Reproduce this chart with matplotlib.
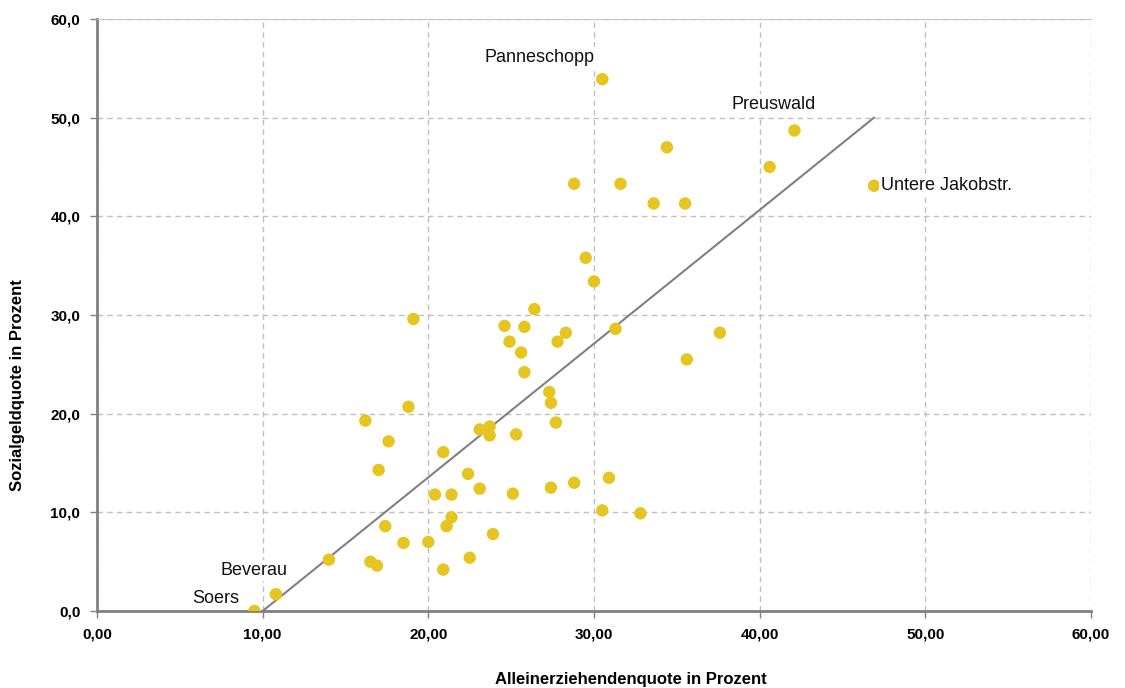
import matplotlib
matplotlib.use("Agg")
import matplotlib.pyplot as plt
from matplotlib.ticker import FuncFormatter

plt.rcParams["font.family"] = ["Liberation Sans Narrow", "Liberation Sans", "DejaVu Sans"]

# Alleinerziehendenquote (x) und Sozialgeldquote (y) je Quartier
alleinerziehend = [
    30.0, 19.1, 26.4, 24.6, 25.8, 24.9, 25.6, 25.8, 28.3, 27.8,
    31.3, 27.3, 27.4, 27.7, 16.2, 18.8, 17.6, 17.0, 23.1, 23.7,
    23.7, 25.3, 20.9, 22.4, 20.4, 21.4, 23.1, 25.1, 27.4, 28.8,
    30.9, 30.5, 21.4, 21.1, 17.4, 18.5, 20.0, 23.9, 14.0, 16.5,
    16.9, 22.5, 20.9, 10.8, 9.5, 30.5, 42.1, 34.4, 40.6, 46.9,
    28.8, 31.6, 33.6, 35.5, 29.5, 37.6, 35.6, 32.8,
]
sozialgeld = [
    33.4, 29.6, 30.6, 28.9, 28.8, 27.3, 26.2, 24.2, 28.2, 27.3,
    28.6, 22.2, 21.1, 19.1, 19.3, 20.7, 17.2, 14.3, 18.4, 18.7,
    17.8, 17.9, 16.1, 13.9, 11.8, 11.8, 12.4, 11.9, 12.5, 13.0,
    13.5, 10.2, 9.5, 8.6, 8.6, 6.9, 7.0, 7.8, 5.2, 5.0,
    4.6, 5.4, 4.2, 1.7, 0.0, 53.9, 48.7, 47.0, 45.0, 43.1,
    43.3, 43.3, 41.3, 41.3, 35.8, 28.2, 25.5, 9.9,
]

# Trendlinie (Anfang und Ende)
trend_x = [10.0, 46.9]
trend_y = [0.0, 50.0]

# beschriftete Quartiere: (Name, x, y, Versatz in Pixel, Ausrichtung)
labels = [
    ("Panneschopp", 30.5, 53.9, (-8, 22), "right"),
    ("Preuswald", 42.1, 48.7, (21, 26), "right"),
    ("Untere Jakobstr.", 46.9, 43.1, (7, 0), "left"),
    ("Beverau", 10.8, 1.7, (12, 24), "right"),
    ("Soers", 9.5, 0.0, (-15, 13), "right"),
]

fig = plt.figure(figsize=(11.25, 6.88), dpi=100)
ax = fig.add_axes([0.0862, 0.1119, 0.8836, 0.8605])

ax.plot(trend_x, trend_y, color="#808080", lw=1.5, zorder=2)
ax.scatter(alleinerziehend, sozialgeld, s=80, color="#E6C521", edgecolors="none", zorder=3)

for name, x, y, off, ha in labels:
    ax.annotate(name, (x, y), xytext=off, textcoords="offset pixels",
                ha=ha, va="center", fontsize=13, color="#111111",
                bbox=dict(facecolor="white", edgecolor="none", pad=1.5), zorder=4)

ax.set_xlim(0, 60)
ax.set_ylim(0, 60)
ax.set_xticks(range(0, 61, 10))
ax.set_yticks(range(0, 61, 10))
ax.xaxis.set_major_formatter(FuncFormatter(lambda v, p: f"{v:.2f}".replace(".", ",")))
ax.yaxis.set_major_formatter(FuncFormatter(lambda v, p: f"{v:.1f}".replace(".", ",")))

ax.grid(True, ls=(0, (4, 3)), color="#C0C0C0", lw=1)
ax.set_axisbelow(True)
for side in ["left", "bottom"]:
    ax.spines[side].set_color("#808080")
    ax.spines[side].set_linewidth(2)
ax.spines["top"].set_color("#C8C8C8")
ax.spines["right"].set_visible(False)

ax.tick_params(axis="both", direction="out", length=5, width=1, color="#808080",
               labelsize=11, pad=7)
for lab in ax.get_xticklabels() + ax.get_yticklabels():
    lab.set_fontweight("bold")

ax.set_xlabel("Alleinerziehendenquote in Prozent", fontsize=12, fontweight="bold")
ax.set_ylabel("Sozialgeldquote in Prozent", fontsize=12, fontweight="bold")
ax.xaxis.set_label_coords(0.537, -0.115)
ax.yaxis.set_label_coords(-0.0795, 0.382)
ax.xaxis.label.set_va("center")
ax.yaxis.label.set_va("center")

fig.savefig("out.png", dpi=100)
